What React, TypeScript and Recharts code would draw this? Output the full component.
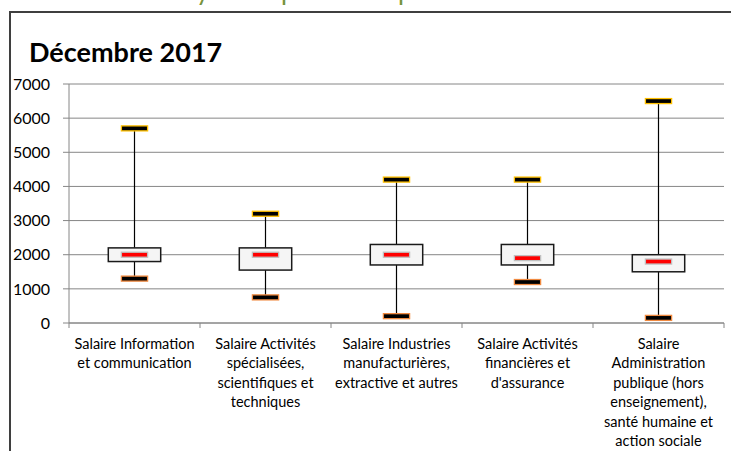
import React from 'react'
import { ComposedChart, Bar, XAxis, YAxis, CartesianGrid } from 'recharts'

const CATEGORIES = [
  'Salaire Information\net communication',
  'Salaire Activités\nspécialisées,\nscientifiques et\ntechniques',
  'Salaire Industries\nmanufacturières,\nextractive et autres',
  'Salaire Activités\nfinancières et\nd\'assurance',
  'Salaire\nAdministration\npublique (hors\nenseignement),\nsanté humaine et\naction sociale',
]
const MINS = [1300, 750, 200, 1200, 150]
const Q1S = [1800, 1550, 1700, 1700, 1500]
const MEDIANS = [2000, 2000, 2000, 1900, 1800]
const Q3S = [2200, 2200, 2300, 2300, 2000]
const MAXS = [5700, 3200, 4200, 4200, 6500]
const Y_TICKS = [0, 1000, 2000, 3000, 4000, 5000, 6000, 7000]

const data = CATEGORIES.map((name, i) => ({
  name,
  min: MINS[i],
  q1: Q1S[i],
  median: MEDIANS[i],
  q3: Q3S[i],
  max: MAXS[i],
}))

const FONT = 'Lato, "Open Sans", sans-serif'

function BoxShape(props: any) {
  const { x, y, width, height, payload } = props
  if (!payload || !height) return null
  const per = height / payload.max
  const yOf = (v: number) => y + (payload.max - v) * per
  const cx = x + width / 2
  const boxW = width * 0.4
  const capW = width * 0.2
  const capH = 5
  return (
    <g>
      <line x1={cx} x2={cx} y1={yOf(payload.max)} y2={yOf(payload.q3)} stroke="#000" strokeWidth={1.2} />
      <line x1={cx} x2={cx} y1={yOf(payload.q1)} y2={yOf(payload.min)} stroke="#000" strokeWidth={1.2} />
      <rect
        x={cx - boxW / 2}
        y={yOf(payload.q3)}
        width={boxW}
        height={yOf(payload.q1) - yOf(payload.q3)}
        fill="#f5f5f5"
        stroke="#1a1a1a"
        strokeWidth={1.5}
      />
      <rect x={cx - capW / 2} y={yOf(payload.median) - capH / 2} width={capW} height={capH} fill="#ff0000" stroke="#c0c0c0" strokeWidth={1.3} />
      <rect x={cx - capW / 2} y={yOf(payload.max) - capH / 2} width={capW} height={capH} fill="#000" stroke="#ffc000" strokeWidth={1.3} />
      <rect x={cx - capW / 2} y={yOf(payload.min) - capH / 2} width={capW} height={capH} fill="#000" stroke="#f08a40" strokeWidth={1.3} />
    </g>
  )
}

function CategoryTick(props: any) {
  const { x, y, payload, index, visibleTicksCount } = props
  const half = payload && payload.offset ? payload.offset : 65.5
  const lines = String(payload.value).split('\n')
  return (
    <g>
      <line x1={x - half} x2={x - half} y1={y} y2={y + 5} stroke="#868686" />
      {index === (visibleTicksCount ?? 5) - 1 && (
        <line x1={x + half} x2={x + half} y1={y} y2={y + 5} stroke="#868686" />
      )}
      {lines.map((line, i) => (
        <text
          key={i}
          x={x}
          y={y + 20 + i * 19.5}
          textAnchor="middle"
          dominantBaseline="central"
          fontFamily={FONT}
          fontSize={14.5}
          fill="#000"
        >
          {line}
        </text>
      ))}
    </g>
  )
}

export default function App() {
  return (
    <div style={{ position: 'fixed', left: 0, top: 0, width: 731, height: 451, overflow: 'hidden', background: '#fff' }}>
      <div
        style={{
          position: 'absolute',
          left: 9,
          top: 11,
          width: 900,
          height: 600,
          border: '2px solid #3f3f3f',
          boxSizing: 'border-box',
        }}
      />
      <svg width={731} height={451} style={{ position: 'absolute', left: 0, top: 0 }}>
        <g fill="#77933c" fontFamily={FONT} fontSize={26}>
          <text x={196} y={0}>y</text>
          <text x={281} y={0}>p</text>
          <text x={398} y={0}>p</text>
        </g>
        <text x={29} y={62} fontFamily={FONT} fontWeight={700} fontSize={27} fill="#000">
          Décembre 2017
        </text>
      </svg>
      <div style={{ position: 'absolute', left: 0, top: 0 }}>
        <ComposedChart
          width={731}
          height={451}
          data={data}
          margin={{ top: 84, right: 7, left: 0, bottom: 0 }}
          barCategoryGap={0}
        >
          <CartesianGrid vertical={false} stroke="#868686" />
          <YAxis
            width={69}
            domain={[0, 7000]}
            ticks={Y_TICKS}
            interval={0}
            tickSize={6}
            tickMargin={13}
            stroke="#868686"
            tick={{ fill: '#000', fontSize: 16, fontFamily: FONT }}
          />
          <XAxis
            dataKey="name"
            height={128}
            interval={0}
            tickSize={0}
            tickMargin={0}
            stroke="#868686"
            tick={<CategoryTick />}
          />
          <Bar dataKey="max" shape={<BoxShape />} isAnimationActive={false} />
        </ComposedChart>
      </div>
    </div>
  )
}
